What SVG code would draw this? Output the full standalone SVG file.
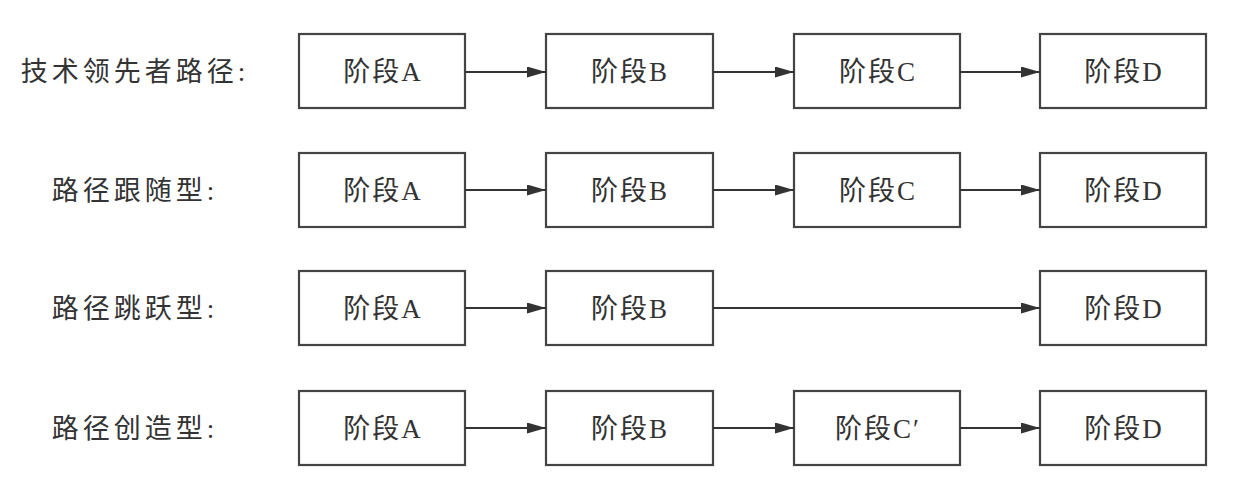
<svg xmlns="http://www.w3.org/2000/svg" width="1250" height="503" viewBox="0 0 1250 503">
<style>
.box{fill:#fff;stroke:#444;stroke-width:2.2}
.t{font-family:"Liberation Serif","Noto Sans CJK SC",serif;font-size:27px;fill:#333;text-anchor:middle;letter-spacing:2px}
.lab{font-family:"Liberation Serif","Noto Sans CJK SC",serif;font-size:27px;fill:#333;text-anchor:middle;letter-spacing:4px}
.c{stroke:#333;stroke-width:2;fill:none}
</style>
<defs>
<marker id="ah" markerWidth="19" markerHeight="11" refX="19" refY="5.5" orient="auto" markerUnits="userSpaceOnUse">
<path d="M0,0 L19,5.5 L0,11 Z" fill="#333"/>
</marker>
</defs>
<g id="labels">
<text class="lab" x="135" y="81">技术领先者路径:</text>
<text class="lab" x="135" y="200">路径跟随型:</text>
<text class="lab" x="135" y="318">路径跳跃型:</text>
<text class="lab" x="135" y="438">路径创造型:</text>
</g>
<g id="r1a"><rect class="box" x="299" y="34" width="166" height="74"/><text class="t" x="383" y="81">阶段A</text></g>
<g id="r1b"><rect class="box" x="546" y="34" width="167" height="74"/><text class="t" x="630" y="81">阶段B</text></g>
<g id="r1c"><rect class="box" x="794" y="34" width="166" height="74"/><text class="t" x="878" y="81">阶段C</text></g>
<g id="r1d"><rect class="box" x="1040" y="34" width="166" height="74"/><text class="t" x="1124" y="81">阶段D</text></g>
<g id="r2a"><rect class="box" x="299" y="153" width="166" height="74"/><text class="t" x="383" y="200">阶段A</text></g>
<g id="r2b"><rect class="box" x="546" y="153" width="167" height="74"/><text class="t" x="630" y="200">阶段B</text></g>
<g id="r2c"><rect class="box" x="794" y="153" width="166" height="74"/><text class="t" x="878" y="200">阶段C</text></g>
<g id="r2d"><rect class="box" x="1040" y="153" width="166" height="74"/><text class="t" x="1124" y="200">阶段D</text></g>
<g id="r3a"><rect class="box" x="299" y="271" width="166" height="74"/><text class="t" x="383" y="318">阶段A</text></g>
<g id="r3b"><rect class="box" x="546" y="271" width="167" height="74"/><text class="t" x="630" y="318">阶段B</text></g>
<g id="r3d"><rect class="box" x="1040" y="271" width="166" height="74"/><text class="t" x="1124" y="318">阶段D</text></g>
<g id="r4a"><rect class="box" x="299" y="391" width="166" height="74"/><text class="t" x="383" y="438">阶段A</text></g>
<g id="r4b"><rect class="box" x="546" y="391" width="167" height="74"/><text class="t" x="630" y="438">阶段B</text></g>
<g id="r4c"><rect class="box" x="794" y="391" width="166" height="74"/><text class="t" x="878" y="438">阶段C′</text></g>
<g id="r4d"><rect class="box" x="1040" y="391" width="166" height="74"/><text class="t" x="1124" y="438">阶段D</text></g>
<g id="connectors">
<line class="c" x1="465" y1="72" x2="546" y2="72" marker-end="url(#ah)"/>
<line class="c" x1="713" y1="72" x2="794" y2="72" marker-end="url(#ah)"/>
<line class="c" x1="960" y1="72" x2="1040" y2="72" marker-end="url(#ah)"/>
<line class="c" x1="465" y1="190" x2="546" y2="190" marker-end="url(#ah)"/>
<line class="c" x1="713" y1="190" x2="794" y2="190" marker-end="url(#ah)"/>
<line class="c" x1="960" y1="190" x2="1040" y2="190" marker-end="url(#ah)"/>
<line class="c" x1="465" y1="308" x2="546" y2="308" marker-end="url(#ah)"/>
<line class="c" x1="713" y1="308" x2="1040" y2="308" marker-end="url(#ah)"/>
<line class="c" x1="465" y1="428" x2="546" y2="428" marker-end="url(#ah)"/>
<line class="c" x1="713" y1="428" x2="794" y2="428" marker-end="url(#ah)"/>
<line class="c" x1="960" y1="428" x2="1040" y2="428" marker-end="url(#ah)"/>
</g>
</svg>
